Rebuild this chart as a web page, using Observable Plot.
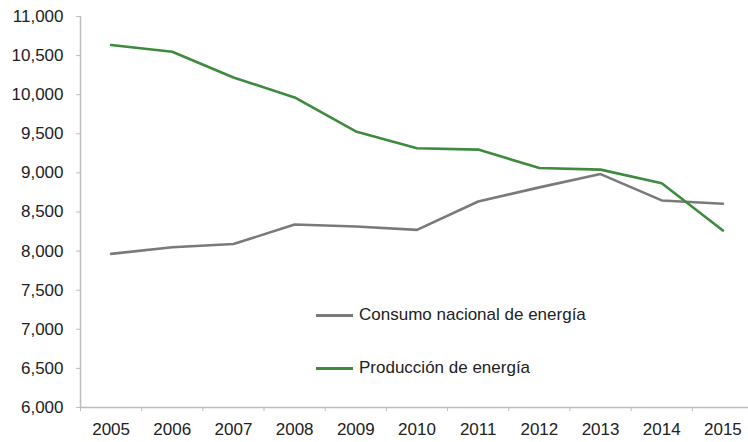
<!DOCTYPE html>
<html>
<head>
<meta charset="utf-8">
<script src="https://cdn.jsdelivr.net/npm/d3@7"></script>
<script src="https://cdn.jsdelivr.net/npm/@observablehq/plot@0.6"></script>
<style>
  html, body { margin: 0; padding: 0; background: #fff; }
  #wrap { position: relative; width: 748px; height: 442px; font-family: "Liberation Sans Narrow", "Liberation Sans", sans-serif; }
  .leg { position: absolute; display: flex; align-items: center; font-size: 17px; color: #222; white-space: nowrap; }
  .leg .sw { width: 37px; height: 3px; margin-right: 6px; }
</style>
</head>
<body>
<div id="wrap"></div>
<script>
const years = [2005, 2006, 2007, 2008, 2009, 2010, 2011, 2012, 2013, 2014, 2015];
const consumo = [7965, 8050, 8090, 8340, 8315, 8272, 8634, 8815, 8985, 8648, 8605];
const produccion = [10635, 10550, 10220, 9965, 9530, 9315, 9298, 9062, 9042, 8868, 8263];
const yTicks = [6000, 6500, 7000, 7500, 8000, 8500, 9000, 9500, 10000, 10500, 11000];
const seriesNames = ["Consumo nacional de energía", "Producción de energía"];
const seriesColors = ["#7a7a7a", "#3e8a3e"];

const data = [];
years.forEach((yr, i) => {
  data.push({year: yr, value: consumo[i], serie: seriesNames[0]});
  data.push({year: yr, value: produccion[i], serie: seriesNames[1]});
});
const bandEdges = years.map(y => y - 0.5).concat([years[years.length - 1] + 0.5]);

const chart = Plot.plot({
  width: 748,
  height: 442,
  marginLeft: 80,
  marginRight: 0,
  marginTop: 16,
  marginBottom: 35,
  style: {fontFamily: "'Liberation Sans Narrow', 'Liberation Sans', sans-serif", fontSize: "17px", color: "#222", background: "#fff"},
  x: {domain: [years[0] - 0.5, years[years.length - 1] + 0.5], range: [80, 753], label: null},
  y: {domain: [yTicks[0], yTicks[yTicks.length - 1]], label: null},
  color: {domain: seriesNames, range: seriesColors},
  marks: [
    Plot.ruleX([bandEdges[0]], {stroke: "#bdbdbd", strokeWidth: 1.5}),
    Plot.ruleY([yTicks[0]], {stroke: "#bdbdbd", strokeWidth: 1.5}),
    Plot.axisY({ticks: yTicks, tickSize: 4, tickPadding: 13, tickFormat: d3.format(","), stroke: "#bdbdbd", fill: "#222", label: null}),
    Plot.axisX({ticks: bandEdges, tickSize: 4, tickFormat: () => "", stroke: "#bdbdbd", label: null}),
    Plot.axisX({ticks: years, tickSize: 0, tickPadding: 15, tickFormat: d => String(d), fill: "#222", label: null}),
    Plot.line(data, {x: "year", y: "value", z: "serie", stroke: "serie", strokeWidth: 2.6})
  ]
});

const wrap = document.getElementById("wrap");
wrap.appendChild(chart);
const legPos = [[316, 305], [316, 358]];
seriesNames.forEach((name, i) => {
  const d = document.createElement("div");
  d.className = "leg";
  d.style.left = legPos[i][0] + "px";
  d.style.top = legPos[i][1] + "px";
  d.innerHTML = `<span class="sw" style="background:${seriesColors[i]}"></span><span>${name}</span>`;
  wrap.appendChild(d);
});
</script>
</body>
</html>
